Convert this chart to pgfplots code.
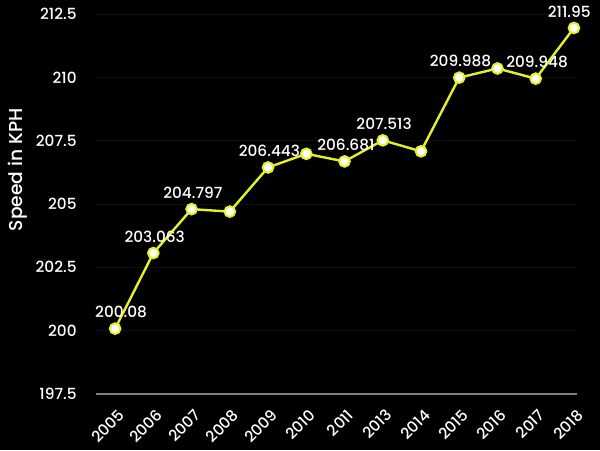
\documentclass[border=0pt]{standalone}
\usepackage{pgfplots}
\pgfplotsset{compat=1.18}
\usepackage{fontspec}
\setmainfont{Poppins}[UprightFont=* Medium]
\definecolor{lineyel}{RGB}{228,240,40}
\definecolor{axgray}{RGB}{130,130,130}
\definecolor{gridc}{RGB}{16,16,16}
\begin{document}
\begin{tikzpicture}
\fill[black] (0,0) rectangle (450pt,337.5pt);
\useasboundingbox (0,0) rectangle (450pt,337.5pt);
\begin{axis}[
  at={(72pt,42pt)}, anchor=south west,
  scale only axis, width=360.75pt, height=285pt,
  xmin=-0.5, xmax=12.08, ymin=197.5, ymax=212.5,
  ytick={197.5,200,202.5,205,207.5,210,212.5},
  yticklabels={197.5,200,202.5,205,207.5,210,212.5},
  xtick={0,...,12},
  xticklabels={2005,2006,2007,2008,2009,2010,2011,2013,2014,2015,2016,2017,2018},
  axis lines*=left,
  y axis line style={draw=none},
  x axis line style={draw=axgray, line width=1.2pt, -},
  major tick length=0,
  ymajorgrids, grid style={gridc, line width=0.6pt},
  tick label style={white, font=\fontsize{11.5}{13}\selectfont},
  yticklabel style={xshift=-11pt},
  xticklabel style={rotate=45, anchor=east, yshift=-13pt, xshift=-3pt},
  ylabel={Speed in KPH},
  every axis y label/.style={at={(axis description cs:-0.162,0.59)}, rotate=90, anchor=center, white, font=\fontsize{14}{16}\selectfont},
  clip=false,
  lbl/.style={draw=none, mark=none, point meta=explicit symbolic,
    nodes near coords={\pgfplotspointmeta},
    every node near coord/.append style={white, font=\fontsize{11.5}{13}\selectfont, anchor=south, yshift=4.5pt, xshift=#1}},
]
\addplot[lineyel, line width=1.8pt, mark=*, mark size=4pt,
  mark options={fill=white, draw=lineyel, line width=1.5pt}]
  coordinates {(0,200.08) (1,203.063) (2,204.797) (3,204.70) (4,206.443) (5,206.98) (6,206.681) (7,207.513) (8,207.08) (9,209.988) (10,210.35) (11,209.948) (12,211.95)};
\addplot[lbl=1pt]
  coordinates {(1,203.063)[203.063] (2,204.797)[204.797] (4,206.443)[206.443] (6,206.681)[206.681] (7,207.513)[207.513] (9,209.988)[209.988] (11,209.948)[209.948]};
\addplot[lbl=4.5pt] coordinates {(0,200.08)[200.08]};
\addplot[lbl=-3.5pt] coordinates {(12,211.95)[211.95]};
\end{axis}
\end{tikzpicture}
\end{document}
